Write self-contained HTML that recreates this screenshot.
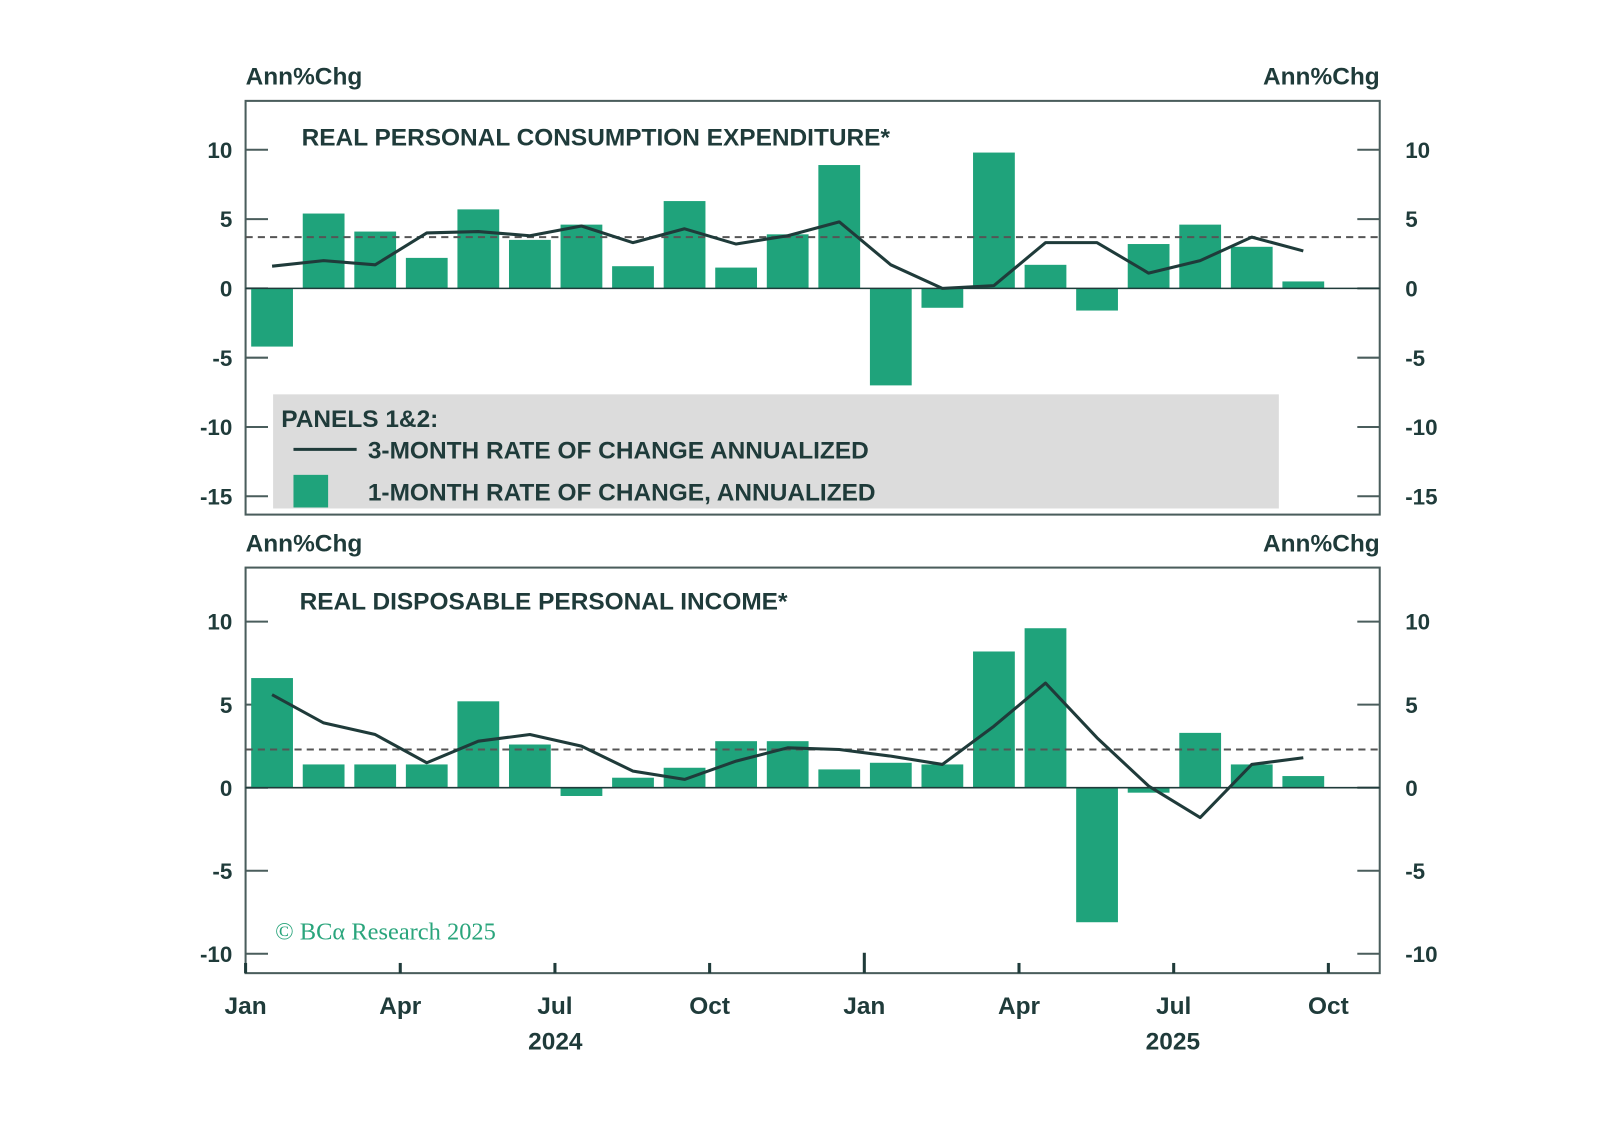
<!DOCTYPE html>
<html><head><meta charset="utf-8"><style>
html,body{margin:0;padding:0;background:#fff;width:1598px;height:1144px;overflow:hidden}
#wrap{transform:scale(1.019);transform-origin:0 0;width:1568px;height:1123px}
text{font-family:"Liberation Sans",sans-serif;fill:#1f3b3a;font-weight:bold}
</style></head><body>
<div id="wrap">
<svg id="svg" width="1568" height="1123" xmlns="http://www.w3.org/2000/svg"></svg>
</div>
<script>
const months=["Jan","Feb","Mar","Apr","May","Jun","Jul","Aug","Sep","Oct","Nov","Dec","Jan","Feb","Mar","Apr","May","Jun","Jul","Aug","Sep"];
const pceBars=[-4.2,5.4,4.1,2.2,5.7,3.5,4.6,1.6,6.3,1.5,3.9,8.9,-7.0,-1.4,9.8,1.7,-1.6,3.2,4.6,3.0,0.5];
const pceLine=[1.6,2.0,1.7,4.0,4.1,3.8,4.5,3.3,4.3,3.2,3.8,4.8,1.7,0.0,0.2,3.3,3.3,1.1,2.0,3.7,2.7];
const pceAvg=3.7;
const rdiBars=[6.6,1.4,1.4,1.4,5.2,2.6,-0.5,0.6,1.2,2.8,2.8,1.1,1.5,1.4,8.2,9.6,-8.1,-0.3,3.3,1.4,0.7];
const rdiLine=[5.6,3.9,3.2,1.5,2.8,3.2,2.5,1.0,0.5,1.6,2.4,2.3,1.9,1.4,3.7,6.3,3.0,0.1,-1.8,1.4,1.8];
const rdiAvg=2.3;
const pceTicks=[10,5,0,-5,-10,-15];
const rdiTicks=[10,5,0,-5,-10];
const xLabels=["Jan","Apr","Jul","Oct","Jan","Apr","Jul","Oct"];
const ns="http://www.w3.org/2000/svg",svg=document.getElementById('svg');
function mk(t,a,txt){const e=document.createElementNS(ns,t);for(const k in a)e.setAttribute(k,a[k]);if(txt!==undefined)e.textContent=txt;svg.appendChild(e);return e;}
const X0=241,X1=1354,MW=50.6;
const xc=i=>267+MW*i;
function panel(p){
 const y=v=>p.zero-v*p.s;
 let e=mk('rect',{x:X0,y:p.top,width:X1-X0,height:p.bot-p.top,fill:'none',stroke:'#4a5d5c','stroke-width':2});
 
 e=mk('text',{x:241,y:p.top-16,'font-size':24},'Ann%Chg');
 e=mk('text',{x:1354,y:p.top-16,'font-size':24,'text-anchor':'end'},'Ann%Chg');
 p.ticks.forEach(t=>{
  const yy=y(t);
  e=mk('line',{x1:X0,x2:X0+22,y1:yy,y2:yy,stroke:'#4a5d5c','stroke-width':2});
  e=mk('line',{x1:X1-22,x2:X1,y1:yy,y2:yy,stroke:'#4a5d5c','stroke-width':2});
  e=mk('text',{x:228,y:yy+8,'font-size':22,'text-anchor':'end'},String(t));
  e=mk('text',{x:1379,y:yy+8,'font-size':22},String(t));
 });
 p.bars.forEach((v,i)=>{
  e=mk('rect',{x:xc(i)-20.5,width:41,y:Math.min(y(v),y(0)),height:Math.abs(y(v)-y(0)),fill:'#1fa37b'});
  
 });
 e=mk('line',{x1:X0,x2:X1,y1:y(0),y2:y(0),stroke:'#1f3b3a','stroke-width':1.5});
 e=mk('line',{x1:X0,x2:X1,y1:y(p.avg),y2:y(p.avg),stroke:'#555','stroke-width':2,'stroke-dasharray':'7,5'});
 e=mk('polyline',{points:p.line.map((v,i)=>xc(i)+','+y(v)).join(' '),fill:'none',stroke:'#1f3b3a','stroke-width':3,'stroke-linejoin':'round'});
 
 e=mk('text',{x:p.tx,y:p.ty,'font-size':24},p.title);
 return y;
}
panel({id:'pce',top:99,bot:505,zero:283,s:13.6,ticks:pceTicks,bars:pceBars,line:pceLine,avg:pceAvg,title:'REAL PERSONAL CONSUMPTION EXPENDITURE*',tx:296,ty:143});
panel({id:'rdi',top:557,bot:955,zero:773,s:16.3,ticks:rdiTicks,bars:rdiBars,line:rdiLine,avg:rdiAvg,title:'REAL DISPOSABLE PERSONAL INCOME*',tx:294,ty:598});
let e=mk('rect',{x:268,y:387,width:987,height:112,fill:'#dcdcdc'});
e=mk('text',{x:276,y:419,'font-size':24},'PANELS 1&2:');
e=mk('line',{x1:288,x2:350,y1:441,y2:441,stroke:'#1f3b3a','stroke-width':3});
e=mk('text',{x:361,y:450,'font-size':24},'3-MONTH RATE OF CHANGE ANNUALIZED');
e=mk('rect',{x:288,y:466,width:34,height:32,fill:'#1fa37b'});
e=mk('text',{x:361,y:491,'font-size':24},'1-MONTH RATE OF CHANGE, ANNUALIZED');
e=mk('text',{x:270,y:922,'font-size':24,style:'font-family:"Liberation Serif",serif;fill:#2aa57c;font-weight:normal'},'© BCα Research 2025');
xLabels.forEach((l,i)=>{
 const xx=X0+MW*3*i;
 e=mk('line',{x1:xx,x2:xx,y1:955,y2:i===4?935:945,stroke:'#1f3b3a','stroke-width':3});
 e=mk('text',{x:xx,y:995,'font-size':24,'text-anchor':'middle'},l);
});
e=mk('text',{x:545,y:1030,'font-size':24,'text-anchor':'middle'},'2024');
e=mk('text',{x:1151,y:1030,'font-size':24,'text-anchor':'middle'},'2025');
</script>
</body></html>
